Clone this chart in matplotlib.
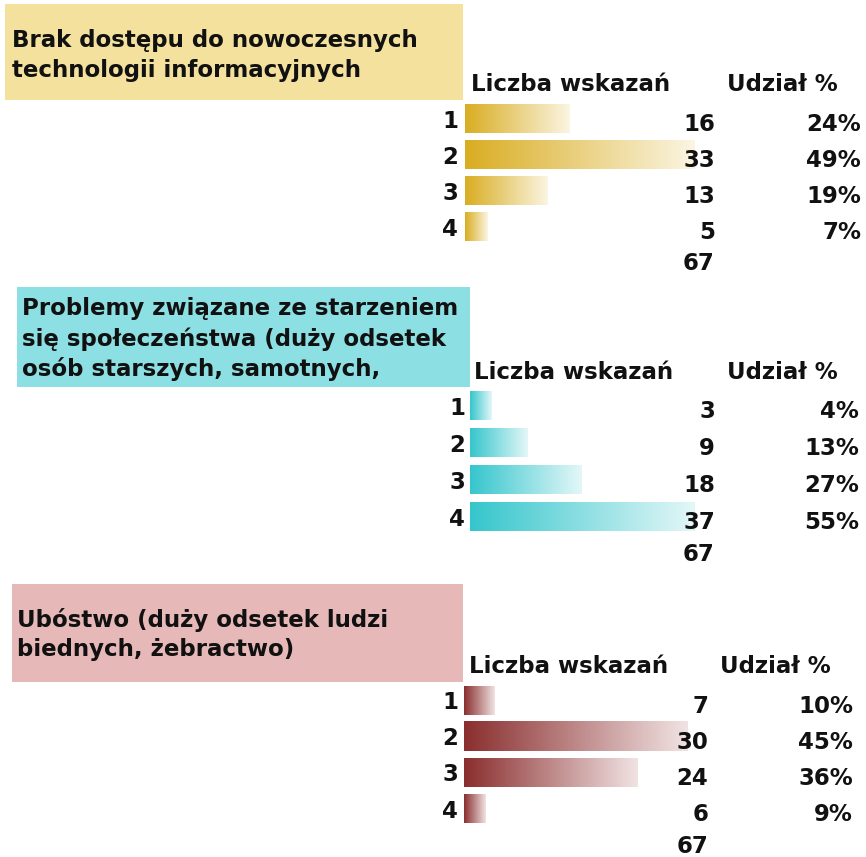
import numpy as np
import matplotlib
matplotlib.use("Agg")
import matplotlib.pyplot as plt
from matplotlib.colors import LinearSegmentedColormap
from matplotlib.transforms import blended_transform_factory

plt.rcParams['font.family'] = ['DejaVu Sans']

# ---- data ----
row_labels = ["1", "2", "3", "4"]
header_count = "Liczba wskazań"
header_share = "Udział %"

title_tech = ["Brak dostępu do nowoczesnych", "technologii informacyjnych"]
counts_tech = [16, 33, 13, 5]
share_tech = [24, 49, 19, 7]

title_age = ["Problemy związane ze starzeniem",
             "się społeczeństwa (duży odsetek",
             "osób starszych, samotnych,"]
counts_age = [3, 9, 18, 37]
share_age = [4, 13, 27, 55]

title_pov = ["Ubóstwo (duży odsetek ludzi", "biednych, żebractwo)"]
counts_pov = [7, 30, 24, 6]
share_pov = [10, 45, 36, 9]

# ---- layout / style (pixel units) ----
W, H = 866, 857
FS = 16.5

panels = [
    dict(title=title_tech, counts=counts_tech, share=share_tech,
         box=(5, 4, 463, 100), box_color="#f4e19d",
         bar_dark="#d9ad22", bar_light="#fbf5e2",
         title_x=12, title_base=[47, 77], head_base=91,
         head_x=(471, 727), bar_left=465, c0=118.5, pitch=36.0,
         px_per_unit=7.39, x0=1.9,
         lab_right=458, cnt_right=715, pct_right=861),
    dict(title=title_age, counts=counts_age, share=share_age,
         box=(17, 287, 470, 387), box_color="#8cdfe3",
         bar_dark="#35c6cc", bar_light="#e4f7f8",
         title_x=22, title_base=[315, 346, 376], head_base=379,
         head_x=(474, 727), bar_left=470, c0=405.5, pitch=37.0,
         px_per_unit=5.97, x0=-0.67,
         lab_right=465, cnt_right=715, pct_right=859),
    dict(title=title_pov, counts=counts_pov, share=share_pov,
         box=(12, 584, 463, 682), box_color="#e6b8b7",
         bar_dark="#8a2e2e", bar_light="#f1e3e3",
         title_x=17, title_base=[627, 656], head_base=673,
         head_x=(469, 720), bar_left=464, c0=700.0, pitch=36.2,
         px_per_unit=8.43, x0=3.44,
         lab_right=458, cnt_right=708, pct_right=853),
]

fig = plt.figure(figsize=(W / 100, H / 100), dpi=100)
fig.patch.set_facecolor("white")

bg = fig.add_axes([0, 0, 1, 1])
bg.set_xlim(0, W)
bg.set_ylim(H, 0)
bg.axis("off")
bg.set_zorder(0)


def px_axes(left, top, width, height):
    return fig.add_axes([left / W, 1 - (top + height) / H, width / W, height / H])


txt = dict(fontsize=FS, fontweight="bold", color="#111111")

for p in panels:
    x1, y1, x2, y2 = p["box"]
    bg.add_patch(plt.Rectangle((x1, y1), x2 - x1, y2 - y1,
                               facecolor=p["box_color"], edgecolor="none", zorder=1))
    for line, yb in zip(p["title"], p["title_base"]):
        bg.text(p["title_x"], yb, line, ha="left", va="baseline", zorder=3, **txt)
    bg.text(p["head_x"][0], p["head_base"], header_count, ha="left",
            va="baseline", zorder=3, **txt)
    bg.text(p["head_x"][1], p["head_base"], header_share, ha="left",
            va="baseline", zorder=3, **txt)

    # bar axes
    ax_w = 260
    top = p["c0"] - p["pitch"] / 2
    ax = px_axes(p["bar_left"], top, ax_w, 4 * p["pitch"])
    ax.set_zorder(2)
    ax.patch.set_visible(False)
    ax.axis("off")
    x0 = p["x0"]
    xmax = x0 + ax_w / p["px_per_unit"]
    ypos = np.arange(len(row_labels))
    counts = np.array(p["counts"], dtype=float)
    bar_h = 29.0 / p["pitch"]
    bars = ax.barh(ypos, counts - x0, left=x0, height=bar_h,
                   color="none", edgecolor="none")
    cmap = LinearSegmentedColormap.from_list("g", [p["bar_dark"], p["bar_light"]])
    grad = np.linspace(0, 1, 256).reshape(1, -1)
    for b in bars:
        bx, by, bw, bh = b.get_x(), b.get_y(), b.get_width(), b.get_height()
        ax.imshow(grad, cmap=cmap, aspect="auto", interpolation="bilinear",
                  extent=(bx, bx + bw, by + bh, by), zorder=2)
    ax.set_xlim(x0, xmax)
    ax.set_ylim(3.5, -0.5)

    tr = blended_transform_factory(bg.transData, ax.transData)
    for i, (lab, c, s) in enumerate(zip(row_labels, p["counts"], p["share"])):
        ax.text(p["lab_right"], i, lab, transform=tr, ha="right",
                va="center_baseline", clip_on=False, zorder=3, **txt)
        ax.text(p["cnt_right"], i + 0.1, f"{c}", transform=tr, ha="right",
                va="center_baseline", clip_on=False, zorder=3, **txt)
        ax.text(p["pct_right"], i + 0.1, f"{s}%", transform=tr, ha="right",
                va="center_baseline", clip_on=False, zorder=3, **txt)
    ax.text(p["cnt_right"], len(row_labels) - 0.03, f"{sum(p['counts'])}",
            transform=tr, ha="right", va="center_baseline", clip_on=False,
            zorder=3, **txt)

fig.savefig("out.png", dpi=100, facecolor="white")
